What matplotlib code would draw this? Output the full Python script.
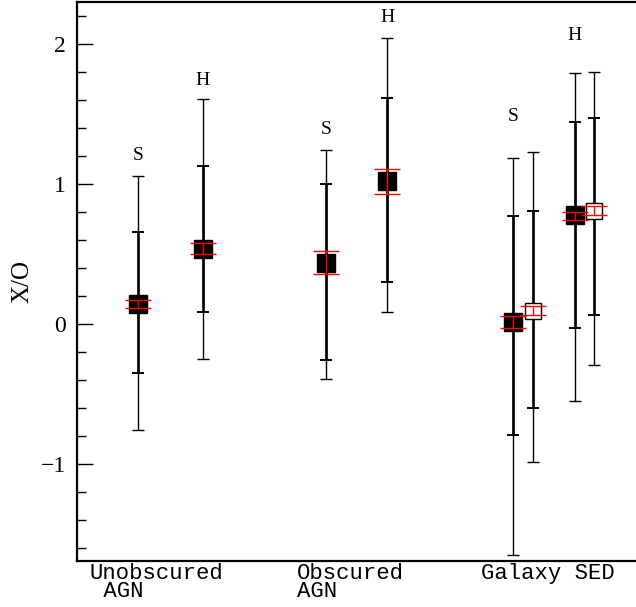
import matplotlib
matplotlib.use('Agg')
import matplotlib.pyplot as plt
from matplotlib.ticker import MultipleLocator, NullLocator

# x/o estimates per sample (soft/hard), last two pairs are galaxy SED fits
xpos = [1.1, 2.25, 4.45, 5.55, 7.8, 8.15, 8.9, 9.25]
xo_val = [0.143, 0.532, 0.433, 1.018, 0.014, 0.094, 0.775, 0.81]
err_lo = [0.112, 0.498, 0.357, 0.93, -0.026, 0.063, 0.745, 0.78]
err_hi = [0.174, 0.578, 0.519, 1.11, 0.056, 0.127, 0.80, 0.84]
sig1_lo = [-0.352, 0.084, -0.257, 0.298, -0.796, -0.603, -0.03, 0.066]
sig1_hi = [0.66, 1.126, 0.998, 1.612, 0.768, 0.807, 1.443, 1.473]
sig2_lo = [-0.757, -0.25, -0.393, 0.088, -1.647, -0.986, -0.547, -0.296]
sig2_hi = [1.06, 1.607, 1.24, 2.043, 1.184, 1.225, 1.794, 1.80]
filled = [True, True, True, True, True, False, True, False]

band_names = ['S', 'H', 'S', 'H', 'S', 'H']
band_x = [1.1, 2.25, 4.45, 5.55, 7.8, 8.9]
band_y = [1.2, 1.74, 1.39, 2.19, 1.48, 2.06]

group_names = ['Unobscured\n AGN', 'Obscured\nAGN', 'Galaxy SED']
group_x = [0.23, 3.93, 7.22]

serif = 'Liberation Serif'
mono = 'Liberation Mono'

fig = plt.figure(figsize=(6.36, 6.07), dpi=100)
ax = fig.add_axes([0.121, 0.0758, 0.879, 0.921])

for i in range(len(xpos)):
    x = xpos[i]
    v = xo_val[i]
    # 2 sigma range (thin)
    ax.errorbar([x], [v], yerr=[[v - sig2_lo[i]], [sig2_hi[i] - v]], fmt='none',
                ecolor='black', elinewidth=1.0, capsize=4, capthick=1.0, zorder=2)
    # 1 sigma range (thick)
    ax.errorbar([x], [v], yerr=[[v - sig1_lo[i]], [sig1_hi[i] - v]], fmt='none',
                ecolor='black', elinewidth=1.9, capsize=4, capthick=1.4, zorder=3)
    if filled[i]:
        ax.plot([x], [v], marker='s', ms=13, mfc='black', mec='black', ls='none', zorder=4)
    else:
        ax.plot([x], [v], marker='s', ms=11, mfc='white', mec='black', mew=1.0, ls='none', zorder=4)
    ax.errorbar([x], [v], yerr=[[v - err_lo[i]], [err_hi[i] - v]], fmt='none',
                ecolor='red', elinewidth=1.0, capsize=9.5, capthick=1.0, zorder=5)

for name, bx, by in zip(band_names, band_x, band_y):
    ax.text(bx, by, name, ha='center', va='center', fontsize=14, family=serif)

for name, gx in zip(group_names, group_x):
    ax.text(gx, -1.71, name, ha='left', va='top', fontsize=16, family=mono,
            linespacing=0.82)

ax.set_xlim(0, 10)
ax.set_ylim(-1.693, 2.3)

ax.xaxis.set_major_locator(NullLocator())
ax.yaxis.set_major_locator(MultipleLocator(1))
ax.yaxis.set_minor_locator(MultipleLocator(0.2))
ax.tick_params(axis='y', which='major', direction='in', length=11.5, width=1.0,
               labelsize=17, pad=8)
ax.tick_params(axis='y', which='minor', direction='in', length=6.5, width=1.0)
ax.set_yticks([-1, 0, 1, 2])
ax.set_yticklabels(['\u22121', '0', '1', '2'], family=serif)

ax.set_ylabel('X/O', fontsize=18, family=serif)
ax.yaxis.set_label_coords(-0.078, 0.5)

ax.spines['right'].set_visible(False)
for s in ['left', 'top', 'bottom']:
    ax.spines[s].set_linewidth(1.6)

fig.savefig('out.png', dpi=100)
